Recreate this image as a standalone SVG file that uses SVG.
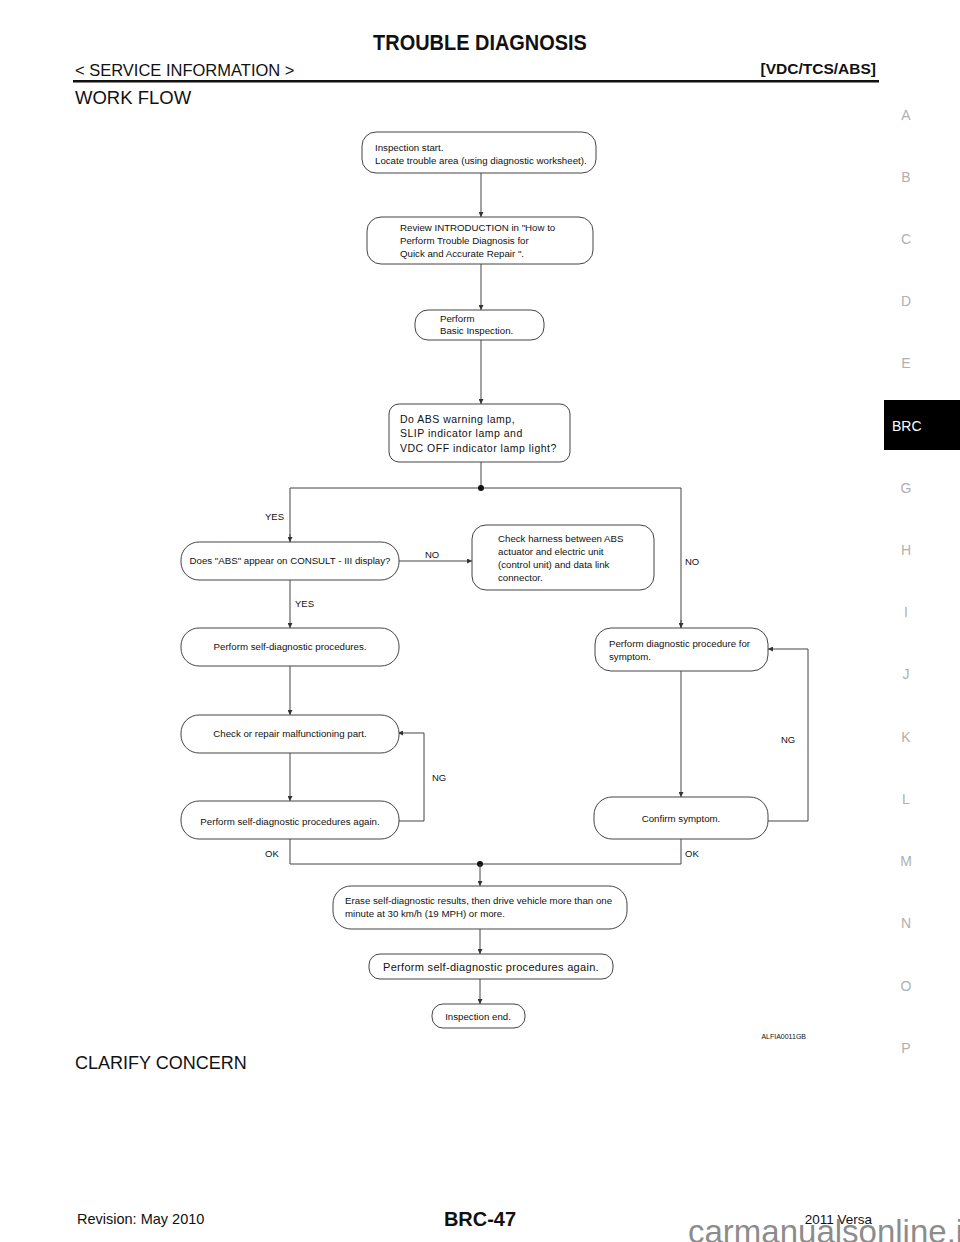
<svg xmlns="http://www.w3.org/2000/svg" width="960" height="1242" viewBox="0 0 960 1242">
<defs>
<style>
text{font-family:"Liberation Sans",Arial,sans-serif;fill:#111}
.box{fill:#fff;stroke:#444;stroke-width:1}
.t{font-size:9.7px}
.tl{font-size:10.5px;letter-spacing:0.5px}
.lbl{font-size:9.5px}
.con{fill:none;stroke:#444;stroke-width:1}
.tab{font-size:14px;fill:#b0b0b0}
</style>
<marker id="ah" viewBox="0 0 6 6" refX="6" refY="3" markerWidth="5" markerHeight="5" orient="auto" markerUnits="userSpaceOnUse">
<path d="M0,0 L6,3 L0,6 z" fill="#333"/>
</marker>
</defs>
<rect width="960" height="1242" fill="#fff"/>

<g id="header">
<text x="480" y="50" text-anchor="middle" font-size="19" font-weight="bold" transform="translate(480 50) scale(1.05 1.15) translate(-480 -50)">TROUBLE DIAGNOSIS</text>
<text x="75" y="76" font-size="16.5">&lt; SERVICE INFORMATION &gt;</text>
<text x="876" y="74" text-anchor="end" font-size="15.5" font-weight="bold">[VDC/TCS/ABS]</text>
<rect x="73" y="80" width="806" height="2.5" fill="#111"/>
<text x="75" y="104" font-size="18.5">WORK FLOW</text>
</g>

<g id="tabs">
<text class="tab" x="906" y="120" text-anchor="middle">A</text>
<text class="tab" x="906" y="182" text-anchor="middle">B</text>
<text class="tab" x="906" y="244" text-anchor="middle">C</text>
<text class="tab" x="906" y="306" text-anchor="middle">D</text>
<text class="tab" x="906" y="368" text-anchor="middle">E</text>
<rect x="884" y="400" width="76" height="50" fill="#000"/>
<text x="892" y="431" font-size="14" style="fill:#fff">BRC</text>
<text class="tab" x="906" y="493" text-anchor="middle">G</text>
<text class="tab" x="906" y="555" text-anchor="middle">H</text>
<text class="tab" x="906" y="617" text-anchor="middle">I</text>
<text class="tab" x="906" y="679" text-anchor="middle">J</text>
<text class="tab" x="906" y="742" text-anchor="middle">K</text>
<text class="tab" x="906" y="804" text-anchor="middle">L</text>
<text class="tab" x="906" y="866" text-anchor="middle">M</text>
<text class="tab" x="906" y="928" text-anchor="middle">N</text>
<text class="tab" x="906" y="991" text-anchor="middle">O</text>
<text class="tab" x="906" y="1053" text-anchor="middle">P</text>
</g>

<g id="connectors">
<line class="con" x1="481" y1="173" x2="481" y2="217" marker-end="url(#ah)"/>
<line class="con" x1="481" y1="264" x2="481" y2="310" marker-end="url(#ah)"/>
<line class="con" x1="481" y1="340" x2="481" y2="404" marker-end="url(#ah)"/>
<line class="con" x1="481" y1="462" x2="481" y2="488"/>
<polyline class="con" points="290,542 290,488 681,488 681,628"/>
<line class="con" x1="290" y1="534" x2="290" y2="542" marker-end="url(#ah)"/>
<line class="con" x1="681" y1="620" x2="681" y2="628" marker-end="url(#ah)"/>
<circle cx="481" cy="488" r="3" fill="#111"/>
<line class="con" x1="399" y1="561" x2="472" y2="561" marker-end="url(#ah)"/>
<line class="con" x1="290" y1="580" x2="290" y2="628" marker-end="url(#ah)"/>
<line class="con" x1="290" y1="666" x2="290" y2="715" marker-end="url(#ah)"/>
<line class="con" x1="290" y1="753" x2="290" y2="801" marker-end="url(#ah)"/>
<polyline class="con" points="398,821 424,821 424,733 398,733" marker-end="url(#ah)"/>
<line class="con" x1="681" y1="671" x2="681" y2="797" marker-end="url(#ah)"/>
<polyline class="con" points="768,821 808,821 808,649 768,649" marker-end="url(#ah)"/>
<polyline class="con" points="290,839 290,864 681,864 681,839"/>
<circle cx="480" cy="864" r="3" fill="#111"/>
<line class="con" x1="480" y1="864" x2="480" y2="886" marker-end="url(#ah)"/>
<line class="con" x1="480" y1="929" x2="480" y2="954" marker-end="url(#ah)"/>
<line class="con" x1="480" y1="979" x2="480" y2="1004" marker-end="url(#ah)"/>
<text class="lbl" x="265" y="520">YES</text>
<text class="lbl" x="425" y="558">NO</text>
<text class="lbl" x="685" y="565">NO</text>
<text class="lbl" x="295" y="607">YES</text>
<text class="lbl" x="432" y="781">NG</text>
<text class="lbl" x="781" y="743">NG</text>
<text class="lbl" x="265" y="857">OK</text>
<text class="lbl" x="685" y="857">OK</text>
</g>

<g id="n1">
<rect class="box" x="362" y="132" width="234" height="41" rx="14"/>
<text class="t" x="375" y="151">Inspection start.</text>
<text class="t" x="375" y="164">Locate trouble area (using diagnostic worksheet).</text>
</g>
<g id="n2">
<rect class="box" x="367" y="217" width="226" height="47" rx="14"/>
<text class="t" x="400" y="231">Review INTRODUCTION in "How to</text>
<text class="t" x="400" y="244">Perform Trouble Diagnosis for</text>
<text class="t" x="400" y="257">Quick and Accurate Repair ".</text>
</g>
<g id="n3">
<rect class="box" x="415" y="310" width="129" height="30" rx="13"/>
<text class="t" x="440" y="322">Perform</text>
<text class="t" x="440" y="334">Basic Inspection.</text>
</g>
<g id="n4">
<rect class="box" x="389" y="404" width="181" height="58" rx="10"/>
<text class="tl" x="400" y="423">Do ABS warning lamp,</text>
<text class="tl" x="400" y="437">SLIP indicator lamp and</text>
<text class="tl" x="400" y="452">VDC OFF indicator lamp light?</text>
</g>
<g id="n5">
<rect class="box" x="181" y="542" width="218" height="38" rx="18"/>
<text class="t" x="290" y="564" text-anchor="middle">Does "ABS" appear on CONSULT - III display?</text>
</g>
<g id="n6">
<rect class="box" x="472" y="525" width="182" height="65" rx="14"/>
<text class="t" x="498" y="542">Check harness between ABS</text>
<text class="t" x="498" y="555">actuator and electric unit</text>
<text class="t" x="498" y="568">(control unit) and data link</text>
<text class="t" x="498" y="581">connector.</text>
</g>
<g id="n7">
<rect class="box" x="595" y="628" width="173" height="43" rx="16"/>
<text class="t" x="609" y="647">Perform diagnostic procedure for</text>
<text class="t" x="609" y="660">symptom.</text>
</g>
<g id="n8">
<rect class="box" x="181" y="628" width="218" height="38" rx="18"/>
<text class="t" x="290" y="650" text-anchor="middle">Perform self-diagnostic procedures.</text>
</g>
<g id="n9">
<rect class="box" x="181" y="715" width="218" height="38" rx="18"/>
<text class="t" x="290" y="737" text-anchor="middle">Check or repair malfunctioning part.</text>
</g>
<g id="n10">
<rect class="box" x="181" y="801" width="218" height="38" rx="18"/>
<text class="t" x="290" y="825" text-anchor="middle">Perform self-diagnostic procedures again.</text>
</g>
<g id="n11">
<rect class="box" x="594" y="797" width="174" height="42" rx="18"/>
<text class="t" x="681" y="822" text-anchor="middle">Confirm symptom.</text>
</g>
<g id="n12">
<rect class="box" x="333" y="886" width="294" height="43" rx="18"/>
<text class="t" x="345" y="904">Erase self-diagnostic results, then drive vehicle more than one</text>
<text class="t" x="345" y="917">minute at 30 km/h (19 MPH) or more.</text>
</g>
<g id="n13">
<rect class="box" x="369" y="954" width="244" height="25" rx="11"/>
<text x="491" y="971" text-anchor="middle" font-size="11" letter-spacing="0.3">Perform self-diagnostic procedures again.</text>
</g>
<g id="n14">
<rect class="box" x="432" y="1004" width="93" height="24" rx="11"/>
<text class="t" x="478" y="1020" text-anchor="middle">Inspection end.</text>
</g>

<g id="footer">
<text x="806" y="1039" text-anchor="end" font-size="7">ALFIA0011GB</text>
<text x="75" y="1069" font-size="18">CLARIFY CONCERN</text>
<text x="77" y="1224" font-size="14.5">Revision: May 2010</text>
<text x="480" y="1226" text-anchor="middle" font-size="20" font-weight="bold">BRC-47</text>
<text x="872" y="1224" text-anchor="end" font-size="13.5">2011 Versa</text>
<text x="688" y="1243" font-size="33" style="fill:#777;fill-opacity:0.85">carmanualsonline.info</text>
</g>
</svg>
